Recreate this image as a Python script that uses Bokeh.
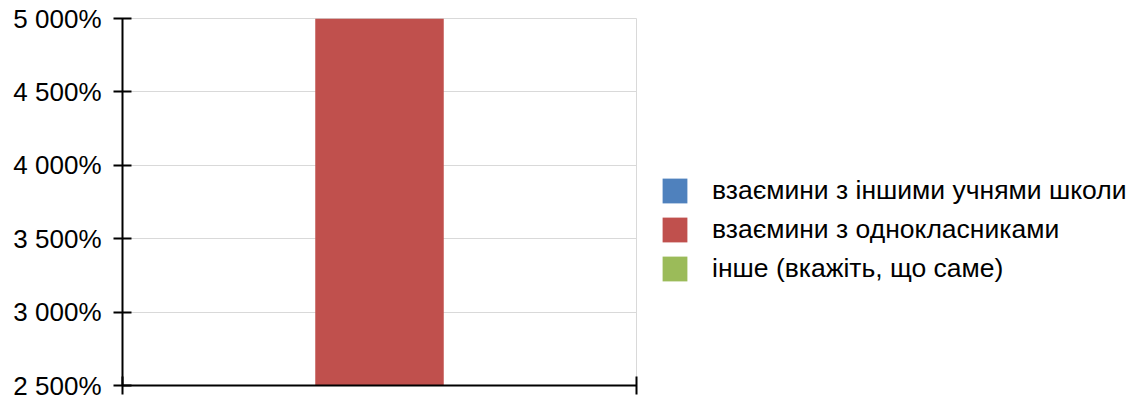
from bokeh.plotting import figure
from bokeh.models import (Range1d, FixedTicker, LinearAxis, Legend, LegendItem,
                          ColumnDataSource, Grid)
from bokeh.transform import dodge
from bokeh.embed import file_html
from bokeh.resources import INLINE

# ---- data ----
categories = [""]
series = ["взаємини з іншими учнями школи",
          "взаємини з однокласниками",
          "інше (вкажіть, що саме)"]
values = [1200, 5000, 400]
colors = ["#4F81BD", "#C0504D", "#9BBB59"]
y_ticks = [2500, 3000, 3500, 4000, 4500, 5000]
y_tick_labels = ["2 500%", "3 000%", "3 500%", "4 000%", "4 500%", "5 000%"]

FONT = "Liberation Sans"

p = figure(frame_width=514, frame_height=367,
           x_range=Range1d(0, len(categories)), y_range=Range1d(y_ticks[0], y_ticks[-1]),
           x_axis_type=None, y_axis_type=None,
           output_backend="svg", toolbar_location=None,
           min_border_left=122, min_border_right=0,
           min_border_top=18, min_border_bottom=16)
p.outline_line_color = "#d9d9d9"
p.outline_line_width = 1
p.background_fill_color = "white"

n = len(series)
bar_w = 1.0 / (n + 1)
items = []
for i, (name, val, col) in enumerate(zip(series, values, colors)):
    src = ColumnDataSource(dict(pos=[k + 0.5 for k in range(len(categories))],
                                top=[val]))
    r = p.vbar(x=dodge("pos", (i - (n - 1) / 2) * bar_w, range=p.x_range),
               top="top", bottom=0, width=bar_w, source=src,
               fill_color=col, line_color=None)
    items.append(LegendItem(label=name, renderers=[r]))

yaxis = LinearAxis(ticker=FixedTicker(ticks=y_ticks),
                   major_label_overrides={t: l for t, l in zip(y_ticks, y_tick_labels)},
                   axis_line_color="black", axis_line_width=2,
                   major_tick_line_color="black", major_tick_line_width=2,
                   major_tick_in=9, major_tick_out=9,
                   minor_tick_line_color=None,
                   major_label_text_font=FONT, major_label_text_font_size="26px",
                   major_label_text_color="black",
                   major_label_standoff=12)
p.add_layout(yaxis, "left")

x_edges = [0, len(categories)]
xaxis = LinearAxis(ticker=FixedTicker(ticks=x_edges),
                   major_label_overrides={t: "" for t in x_edges},
                   axis_line_color="black", axis_line_width=2,
                   major_tick_line_color="black", major_tick_line_width=2,
                   major_tick_in=9, major_tick_out=9,
                   minor_tick_line_color=None,
                   major_label_standoff=0)
p.add_layout(xaxis, "below")

p.add_layout(Grid(dimension=1, ticker=yaxis.ticker, grid_line_color="#d9d9d9",
                  grid_line_width=1))

legend = Legend(items=items, location=(23, 101.5),
                glyph_width=31, glyph_height=31, label_height=31,
                label_standoff=22, spacing=8, padding=0, margin=0,
                border_line_color=None, background_fill_alpha=0,
                label_text_font=FONT, label_text_font_size="26.5px",
                label_text_color="black")
p.add_layout(legend, "right")

open("out.html", "w").write(file_html(p, INLINE))
